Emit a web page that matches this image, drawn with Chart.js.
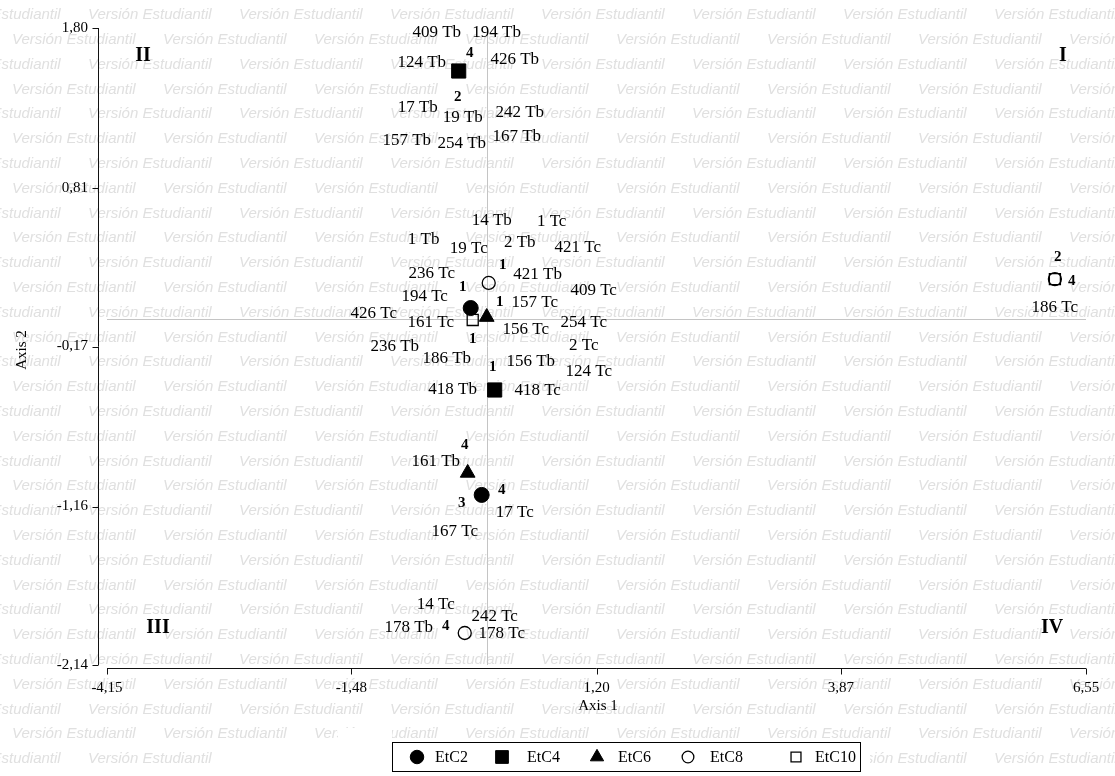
<!DOCTYPE html>
<html>
<head>
<meta charset="utf-8">
<script src="https://cdn.jsdelivr.net/npm/chart.js@4.4.1/dist/chart.umd.min.js"></script>
<style>
  html, body { margin: 0; padding: 0; background: #fff; }
  #wrap { width: 1115px; height: 776px; }
</style>
</head>
<body>
<div id="wrap"><canvas id="chart" width="1115" height="776"></canvas></div>
<script>
const xTicks = [-4.15, -1.48, 1.20, 3.87, 6.55];
const yTicks = [-2.14, -1.16, -0.17, 0.81, 1.80];

const seriesNames = ['EtC2', 'EtC4', 'EtC6', 'EtC8', 'EtC10'];
const etc2X = [-0.175, -0.055];
const etc2Y = [0.068, -1.088];
const etc4X = [-0.306, 0.087];
const etc4Y = [1.534, -0.439];
const etc6X = [0.000, -0.208];
const etc6Y = [0.012, -0.952];
const etc8X = [0.022, -0.240, 6.21];
const etc8Y = [0.223, -1.942, 0.247];
const etc10X = [-0.153, 6.21];
const etc10Y = [-0.006, 0.247];

// numeros de muestreo junto a los puntos
const tagText = ['4', '2', '1', '1', '4', '3', '1', '4', '1', '4', '2', '4', '1'];
const tagX = [-0.185, -0.317, 0.066, -0.262, 0.164, -0.273, 0.142, -0.240, 0.175, -0.448, 6.240, 6.393, -0.153];
const tagY = [1.645, 1.373, -0.297, 0.198, -1.058, -1.138, 0.105, -0.779, 0.334, -1.899, 0.383, 0.235, -0.124];

// variables
const varNames = ['409 Tb', '194 Tb', '124 Tb', '426 Tb', '17 Tb', '19 Tb', '242 Tb', '157 Tb', '254 Tb', '167 Tb',
  '14 Tb', '1 Tc', '1 Tb', '19 Tc', '2 Tb', '421 Tc', '236 Tc', '421 Tb', '194 Tc', '409 Tc',
  '157 Tc', '426 Tc', '161 Tc', '156 Tc', '254 Tc', '236 Tb', '186 Tb', '2 Tc', '156 Tb', '124 Tc',
  '418 Tb', '418 Tc', '161 Tb', '17 Tc', '167 Tc', '14 Tc', '242 Tc', '178 Tb', '178 Tc', '186 Tc'];
const varX = [-0.546, 0.109, -0.710, 0.306, -0.754, -0.262, 0.361, -0.874, -0.273, 0.328,
  0.055, 0.710, -0.689, -0.197, 0.361, 0.995, -0.601, 0.557, -0.678, 1.169,
  0.525, -1.235, -0.612, 0.426, 1.060, -1.005, -0.437, 1.060, 0.481, 1.115,
  -0.372, 0.557, -0.557, 0.306, -0.350, -0.557, 0.087, -0.852, 0.164, 6.208];
const varY = [1.769, 1.775, 1.589, 1.602, 1.311, 1.249, 1.280, 1.107, 1.088, 1.126,
  0.612, 0.606, 0.489, 0.439, 0.476, 0.445, 0.284, 0.278, 0.136, 0.179,
  0.105, 0.037, -0.019, -0.062, -0.019, -0.173, -0.247, -0.161, -0.260, -0.322,
  -0.439, -0.445, -0.884, -1.200, -1.317, -1.769, -1.843, -1.911, -1.948, 0.068];

const quadrants = ['I', 'II', 'III', 'IV'];

const SERIF = '"Liberation Serif", "Times New Roman", serif';
const fmt = (v) => Number(v).toFixed(2).replace('.', ',');
const pts = (xs, ys) => xs.map((x, i) => ({ x, y: ys[i] }));

const styles = [
  { pointStyle: 'circle', radius: 7.5, fill: '#000', border: 1 },
  { pointStyle: 'rect', radius: 10, fill: '#000', border: 1 },
  { pointStyle: 'triangle', radius: 8.5, fill: '#000', border: 1 },
  { pointStyle: 'circle', radius: 6.5, fill: 'rgba(0,0,0,0)', border: 1.3 },
  { pointStyle: 'rect', radius: 7.8, fill: 'rgba(0,0,0,0)', border: 1.3 },
];
const seriesPts = [pts(etc2X, etc2Y), pts(etc4X, etc4Y), pts(etc6X, etc6Y), pts(etc8X, etc8Y), pts(etc10X, etc10Y)];

const watermark = {
  id: 'watermark',
  beforeDraw(chart) {
    const ctx = chart.ctx;
    ctx.save();
    ctx.fillStyle = '#fff';
    ctx.fillRect(0, 0, chart.width, chart.height);
    ctx.font = 'italic 15px "Liberation Sans", Arial, sans-serif';
    ctx.fillStyle = '#e0e0e0';
    ctx.textBaseline = 'middle';
    for (let row = 0; 15 + row * 24.8 < chart.height + 10; row++) {
      const y = 15 + row * 24.8;
      for (let x = row % 2 ? 12 : 88 - 151; x < chart.width; x += 151) ctx.fillText('Versión Estudiantil', x, y);
    }
    ctx.fillStyle = '#fff';
    ctx.fillRect(338, 742, 532, 34);
    ctx.fillRect(338, 728, 54, 14);
    ctx.fillRect(228, 750, 110, 26);
    ctx.restore();
  },
  beforeDatasetsDraw(chart) {
    const { ctx, chartArea: a, scales: { x, y } } = chart;
    ctx.save();
    // lineas de referencia en 0
    ctx.strokeStyle = '#c4c4c4';
    ctx.lineWidth = 1;
    ctx.beginPath();
    ctx.moveTo(Math.round(x.getPixelForValue(0)) + 0.5, a.top);
    ctx.lineTo(Math.round(x.getPixelForValue(0)) + 0.5, a.bottom);
    ctx.moveTo(a.left, Math.round(y.getPixelForValue(0)) + 0.5);
    ctx.lineTo(a.right, Math.round(y.getPixelForValue(0)) + 0.5);
    ctx.stroke();
    // ejes separados
    ctx.strokeStyle = '#111';
    const axX = a.left - 8.5, axY = a.bottom + 3.5;
    ctx.beginPath();
    ctx.moveTo(axX, y.getPixelForValue(yTicks[yTicks.length - 1]));
    ctx.lineTo(axX, y.getPixelForValue(yTicks[0]));
    yTicks.forEach((v) => {
      const py = Math.round(y.getPixelForValue(v)) + 0.5;
      ctx.moveTo(axX - 6, py); ctx.lineTo(axX, py);
    });
    ctx.moveTo(x.getPixelForValue(xTicks[0]), axY);
    ctx.lineTo(x.getPixelForValue(xTicks[xTicks.length - 1]), axY);
    xTicks.forEach((v) => {
      const px = Math.round(x.getPixelForValue(v)) + 0.5;
      ctx.moveTo(px, axY); ctx.lineTo(px, axY + 6);
    });
    ctx.stroke();
    ctx.restore();
  },
  afterDatasetsDraw(chart) {
    const { ctx, chartArea: a, scales: { x, y } } = chart;
    ctx.save();
    ctx.fillStyle = '#000';
    ctx.textAlign = 'center';
    ctx.textBaseline = 'middle';
    ctx.font = `17px ${SERIF}`;
    varNames.forEach((t, i) => ctx.fillText(t, x.getPixelForValue(varX[i]), y.getPixelForValue(varY[i])));
    ctx.font = `bold 15px ${SERIF}`;
    tagText.forEach((t, i) => ctx.fillText(t, x.getPixelForValue(tagX[i]), y.getPixelForValue(tagY[i])));

    ctx.font = `bold 20px ${SERIF}`;
    ctx.fillText(quadrants[0], a.right - 23, a.top + 28);
    ctx.fillText(quadrants[1], a.left + 36, a.top + 28);
    ctx.fillText(quadrants[2], a.left + 51, a.bottom - 37);
    ctx.fillText(quadrants[3], a.right - 34, a.bottom - 37);

    ctx.font = `15px ${SERIF}`;
    ctx.fillText('Axis 1', 598, 706);
    ctx.save();
    ctx.translate(22, 350);
    ctx.rotate(-Math.PI / 2);
    ctx.fillText('Axis 2', 0, 0);
    ctx.restore();

    // leyenda
    ctx.fillStyle = '#fff';
    ctx.fillRect(392, 742, 468, 29);
    ctx.strokeStyle = '#000';
    ctx.lineWidth = 1;
    ctx.strokeRect(392.5, 742.5, 468, 29);
    const markX = [417, 502, 597, 688, 796];
    const textX = [435, 527, 618, 710, 815];
    ctx.textAlign = 'left';
    ctx.font = `16px ${SERIF}`;
    seriesNames.forEach((name, i) => {
      const s = styles[i];
      ctx.fillStyle = s.fill;
      ctx.strokeStyle = '#000';
      ctx.lineWidth = s.border;
      Chart.helpers.drawPoint(ctx, { pointStyle: s.pointStyle, radius: s.radius * 0.9, rotation: 0, borderWidth: s.border }, markX[i], 757);
      ctx.fillStyle = '#000';
      ctx.fillText(name, textX[i], 758);
    });
    ctx.restore();
  }
};

new Chart(document.getElementById('chart'), {
  type: 'scatter',
  data: {
    datasets: seriesNames.map((name, i) => ({
      label: name,
      data: seriesPts[i],
      pointStyle: styles[i].pointStyle,
      pointRadius: styles[i].radius,
      pointHoverRadius: styles[i].radius,
      backgroundColor: styles[i].fill,
      borderColor: '#000',
      borderWidth: styles[i].border,
    })),
  },
  options: {
    responsive: false,
    animation: false,
    devicePixelRatio: 1,
    events: [],
    layout: { padding: { top: 28, right: 29, left: 0, bottom: 0 } },
    plugins: { legend: { display: false }, tooltip: { enabled: false } },
    scales: {
      x: {
        type: 'linear', min: -4.15, max: 6.55,
        grid: { display: false, drawTicks: false }, border: { display: false },
        afterBuildTicks: (s) => { s.ticks = xTicks.map((v) => ({ value: v })); },
        afterFit: (s) => { s.height = 111; },
        ticks: { callback: fmt, color: '#000', font: { family: SERIF, size: 15 }, padding: 14, maxRotation: 0, autoSkip: false },
      },
      y: {
        type: 'linear', min: -2.14, max: 1.80,
        grid: { display: false, drawTicks: false }, border: { display: false },
        afterBuildTicks: (s) => { s.ticks = yTicks.map((v) => ({ value: v })); },
        afterFit: (s) => { s.width = 107; },
        ticks: { callback: fmt, color: '#000', font: { family: SERIF, size: 15 }, padding: 19, autoSkip: false },
      },
    },
  },
  plugins: [watermark],
});
</script>
</body>
</html>
